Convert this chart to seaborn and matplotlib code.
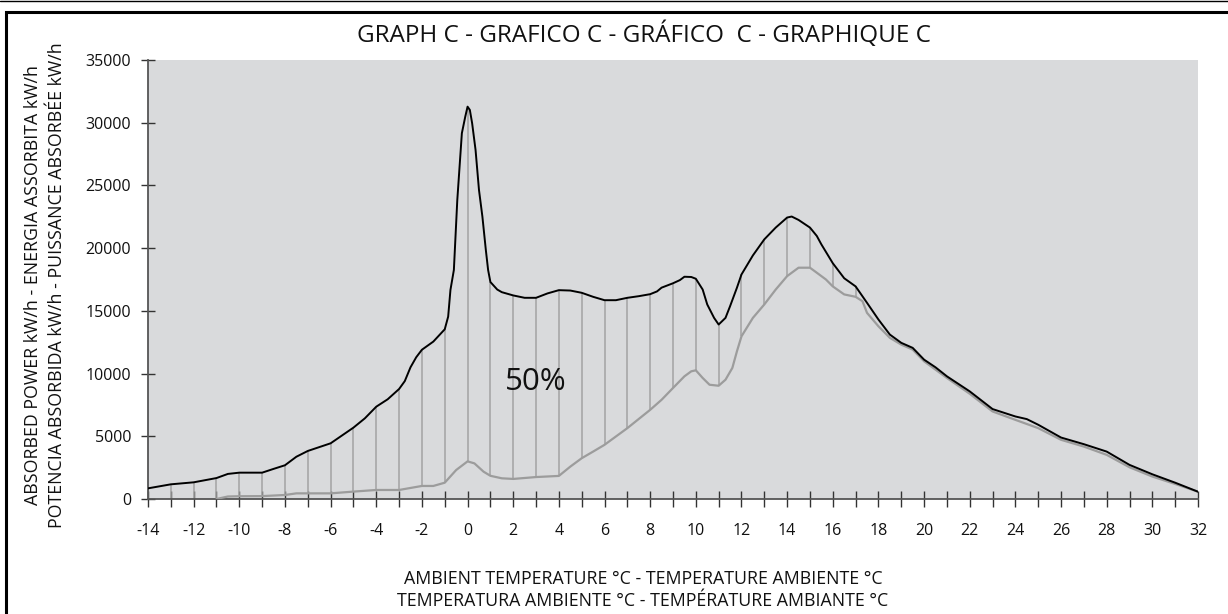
import numpy as np
import matplotlib
matplotlib.use("Agg")
import matplotlib.pyplot as plt
import seaborn as sns
from matplotlib.patches import Rectangle
from matplotlib.lines import Line2D

# ---------------- data ----------------
upper_temp = [-14, -13, -12, -11, -10.5, -10, -9, -8.5, -8, -7.5, -7, -6, -5, -4.5, -4, -3.5, -3,
              -2.75, -2.5, -2.25, -2, -1.5, -1, -0.85, -0.75, -0.6, -0.45, -0.35, -0.25, -0.1, 0,
              0.1, 0.2, 0.35, 0.5, 0.65, 0.8, 0.9, 1, 1.3, 1.5, 2, 2.5, 3, 3.5, 4, 4.5, 5, 5.5, 6,
              6.5, 7, 7.5, 8, 8.3, 8.5, 9, 9.3, 9.5, 9.8, 10, 10.3, 10.5, 10.8, 11, 11.3, 11.5,
              11.8, 12, 12.5, 13, 13.5, 14, 14.2, 14.5, 15, 15.3, 15.5, 16, 16.5, 17, 17.5, 18,
              18.5, 19, 19.5, 20, 20.5, 21, 22, 23, 24, 24.5, 25, 26, 27, 28, 28.5, 29, 30, 31, 32]
upper_power = [850, 1170, 1330, 1670, 2000, 2100, 2100, 2400, 2690, 3370, 3830, 4440, 5690, 6430,
               7360, 7950, 8770, 9400, 10500, 11300, 11900, 12550, 13530, 14540, 16670, 18260,
               23840, 26500, 29160, 30490, 31280, 31020, 29960, 27830, 24640, 22510, 19860,
               18260, 17300, 16700, 16490, 16230, 16040, 16040, 16390, 16650, 16620, 16440,
               16120, 15850, 15850, 16040, 16170, 16330, 16550, 16850, 17200, 17450, 17720,
               17700, 17560, 16700, 15510, 14440, 13910, 14440, 15370, 16840, 17900, 19420,
               20700, 21640, 22440, 22520, 22250, 21640, 20970, 20300, 18800, 17600, 16950,
               15640, 14310, 13110, 12450, 12050, 11110, 10500, 9780, 8580, 7170, 6580, 6370,
               5920, 4900, 4370, 3780, 3250, 2720, 1970, 1300, 580]

lower_temp = [-11, -10.5, -10, -9, -8, -7.5, -6, -5, -4, -3, -2, -1.5, -1, -0.5, 0, 0.3, 0.7, 1,
              1.5, 2, 3, 4, 4.5, 5, 5.5, 6, 7, 8, 8.5, 9, 9.5, 9.8, 10, 10.3, 10.6, 11, 11.3,
              11.6, 11.8, 12, 12.5, 13, 13.5, 14, 14.5, 15, 15.3, 15.7, 16, 16.5, 17, 17.3, 17.5,
              18, 18.5, 19, 19.5, 20, 21, 22, 23, 24, 25, 26, 27, 28, 29, 30, 31, 32]
lower_power = [0, 200, 220, 230, 320, 450, 450, 590, 720, 720, 1040, 1040, 1300, 2310, 3000, 2840,
               2180, 1850, 1650, 1600, 1750, 1840, 2580, 3250, 3780, 4320, 5650, 7110, 7910,
               8850, 9780, 10180, 10260, 9650, 9110, 9030, 9510, 10450, 11770, 12970, 14440,
               15510, 16700, 17770, 18440, 18440, 18040, 17500, 16950, 16310, 16120, 15770,
               14840, 13770, 12850, 12310, 11910, 10980, 9650, 8390, 6980, 6310, 5650, 4720,
               4180, 3520, 2530, 1790, 1200, 580]

hatch_temps = list(range(-14, 18))
x_ticks = list(range(-14, 33))
y_ticks = [0, 5000, 10000, 15000, 20000, 25000, 30000, 35000]

title = "GRAPH C - GRAFICO C - GRÁFICO  C - GRAPHIQUE C"
ylabel = ("ABSORBED POWER kW/h - ENERGIA ASSORBITA kW/h\n"
          "POTENCIA ABSORBIDA kW/h - PUISSANCE ABSORBÉE kW/h")
xlabel = ("AMBIENT TEMPERATURE °C - TEMPERATURE AMBIENTE °C\n"
          "TEMPERATURA AMBIENTE °C - TEMPÉRATURE AMBIANTE °C")
annotation = "50%"

# ---------------- style ----------------
sns.set_theme(style="white")
plt.rcParams['font.family'] = ['Open Sans', 'DejaVu Sans']

W, H = 1228, 614
fig = plt.figure(figsize=(W / 100, H / 100), dpi=100)
ax = fig.add_axes([148 / W, 1 - 499 / H, (1198 - 148) / W, (499 - 60) / H])
ax.set_facecolor("#d9dadc")

# hatch lines between the two curves
up_h = np.interp(hatch_temps, upper_temp, upper_power)
lo_h = np.interp(hatch_temps, lower_temp, lower_power, left=0)
ax.vlines(hatch_temps, lo_h, up_h, colors="#a3a3a3", linewidth=1.1, zorder=2)

sns.lineplot(x=lower_temp, y=lower_power, ax=ax, color="#9c9c9c", linewidth=1.6,
             estimator=None, sort=False, zorder=3)
sns.lineplot(x=upper_temp, y=upper_power, ax=ax, color="#000000", linewidth=1.4,
             estimator=None, sort=False, zorder=4)

ax.set_xlim(-14, 32)
ax.set_ylim(0, 35000)
ax.set_xticks(x_ticks)
ax.set_xticklabels([str(t) if t % 2 == 0 else "" for t in x_ticks])
ax.set_yticks(y_ticks)
ax.set_yticklabels([str(v) for v in y_ticks])
ax.tick_params(axis="x", bottom=True, direction="inout", length=11, width=1.0, color="#333333",
               labelsize=11.5, pad=12, labelcolor="#111111")
ax.tick_params(axis="y", left=True, direction="inout", length=10, width=1.0, color="#333333",
               labelsize=11.5, pad=7, labelcolor="#111111")
for s in ["top", "right"]:
    ax.spines[s].set_visible(False)
for s in ["left", "bottom"]:
    ax.spines[s].set_color("#555555")
    ax.spines[s].set_linewidth(1.3)
ax.set_xlabel("")
ax.set_ylabel("")

ax.text(3.0, 9300, annotation, fontsize=22.5, color="#111111", ha="center", va="center", zorder=5)

fig.text(644 / W, 1 - 35 / H, title, fontsize=17.5, ha="center", va="center", color="#111111")
fig.text(643 / W, 1 - 590 / H, xlabel, fontsize=12.8, ha="center", va="center",
         linespacing=1.25, color="#111111")
fig.text(45 / W, 1 - 285 / H, ylabel, fontsize=12.8, ha="center", va="center", rotation=90,
         linespacing=1.45, multialignment="center", color="#111111")

# frame
fig.add_artist(Rectangle((5.5 / W, -0.05), 1.1, 1 - 11.5 / H + 0.05, transform=fig.transFigure,
                         fill=False, edgecolor="black", linewidth=2.2))
fig.add_artist(Line2D([0, 1], [1 - 0.5 / H, 1 - 0.5 / H], transform=fig.transFigure,
                      color="black", linewidth=1.0))

fig.savefig("out.png", dpi=100)
